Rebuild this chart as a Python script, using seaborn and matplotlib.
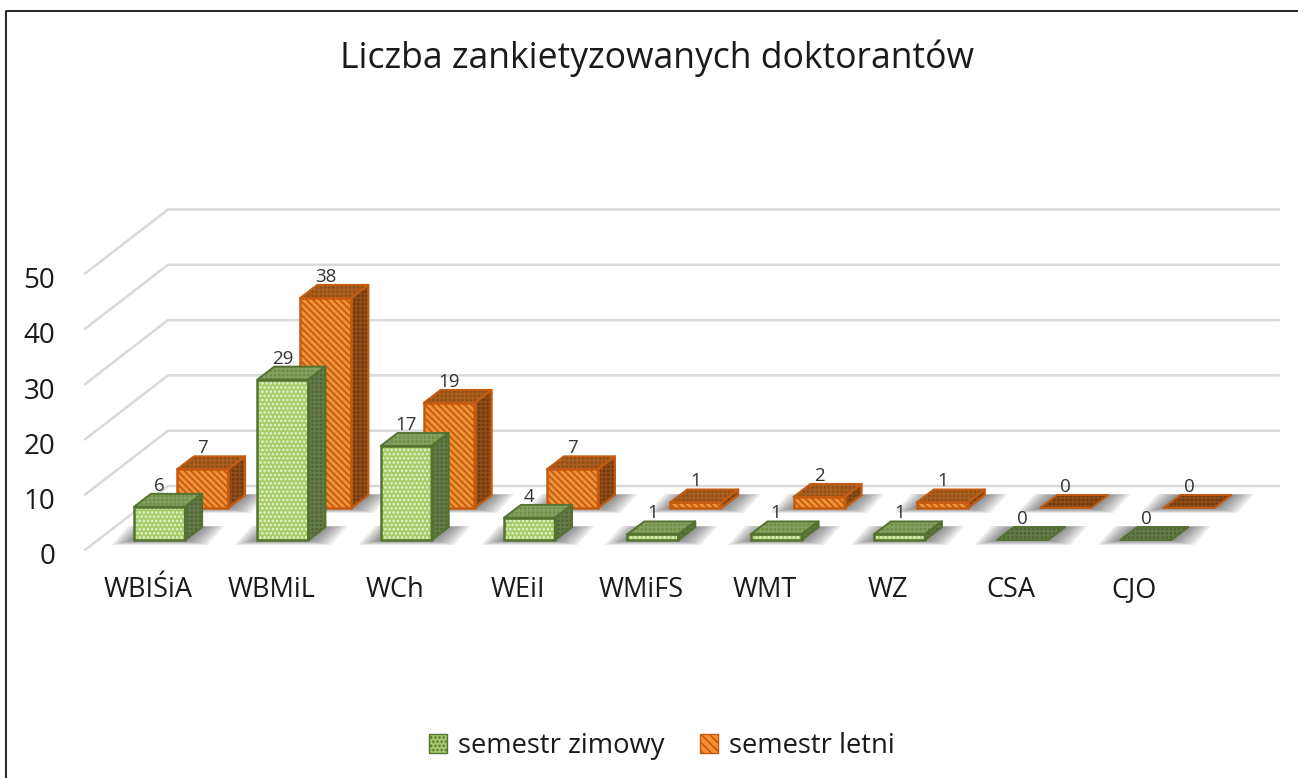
# Liczba zankietyzowanych doktorantow - pseudo 3D bars like the Excel one
import numpy as np
import pandas as pd
import seaborn as sns
import matplotlib.pyplot as plt
from matplotlib.lines import Line2D
from matplotlib.patches import Patch, Polygon, Rectangle
from matplotlib.transforms import ScaledTranslation

categories = ["WBIŚiA", "WBMiL", "WCh", "WEiI", "WMiFS", "WMT", "WZ", "CSA", "CJO"]
zimowy = [6, 29, 17, 4, 1, 1, 1, 0, 0]
letni = [7, 38, 19, 7, 1, 2, 1, 0, 0]
y_ticks = [0, 10, 20, 30, 40, 50]
series_names = ["semestr zimowy", "semestr letni"]
title = "Liczba zankietyzowanych doktorantów"

sns.set_theme(style="white")
plt.rcParams["font.family"] = ["Open Sans", "DejaVu Sans"]
plt.rcParams["hatch.linewidth"] = 1.2

W, H = 1298, 778
PX_X = 123.3   # pixels per category
PX_Y = 5.53    # pixels per unit

fig = plt.figure(figsize=(W / 100, H / 100), dpi=100, facecolor="white")
ax_left, ax_right, ax_top, ax_bottom = 70, W, 190, 572
ax = fig.add_axes([ax_left / W, 1 - ax_bottom / H, (ax_right - ax_left) / W, (ax_bottom - ax_top) / H])

# depth of the box and shift of the back row, in data units
bar_w = 51 / PX_X
dx = 17 / PX_X
dy = 13 / PX_Y
row_x = 43 / PX_X
row_y = 32 / PX_Y


def shadow(ax, x0, base, z):
    # soft floor shadow, stacked see-through shapes
    for k in range(7, 0, -1):
        grow_x = k * 3.2 / PX_X
        low = k * 0.7 / PX_Y
        high = k * 0.15 / PX_Y
        pts = [(x0 - grow_x, base - low), (x0 + bar_w + grow_x, base - low),
               (x0 + bar_w + dx + grow_x, base + dy + high), (x0 + dx - grow_x, base + dy + high)]
        ax.add_patch(Polygon(pts, fc="#404040", ec="none", alpha=0.11, zorder=z))


def box_faces(ax, bars, vals, base, top_c, top_h, side_c, side_h, edge, z):
    for b, v in zip(bars, vals):
        x0 = b.get_x()
        x1 = x0 + b.get_width()
        y1 = base + v
        top = [(x0, y1), (x1, y1), (x1 + dx, y1 + dy), (x0 + dx, y1 + dy)]
        side = [(x1, base), (x1 + dx, base + dy), (x1 + dx, y1 + dy), (x1, y1)]
        if v > 0:
            ax.add_patch(Polygon(side, fc=side_c, ec=side_h, hatch="++++", lw=0, zorder=z))
            ax.add_patch(Polygon(side, fill=False, ec=edge, lw=1.6, zorder=z + 0.2, joinstyle="round"))
            ax.add_patch(Rectangle((x0, base), b.get_width(), v, fill=False, ec=edge, lw=1.8, zorder=z + 0.3))
            ax.add_patch(Polygon(top, fc=top_c, ec=top_h, hatch="++++", lw=0, zorder=z))
        else:
            # empty bars only show a darker lid
            ax.add_patch(Polygon(top, fc=side_c, ec=side_h, hatch="++++", lw=0, zorder=z))
        ax.add_patch(Polygon(top, fill=False, ec=edge, lw=1.4, zorder=z + 0.2, joinstyle="round"))


# back row first so the front row covers it
df_letni = pd.DataFrame({"wydzial": categories, "liczba": letni})
df_zimowy = pd.DataFrame({"wydzial": categories, "liczba": zimowy})

sns.barplot(data=df_letni, x="wydzial", y="liczba", ax=ax, width=bar_w, color="#f49034", saturation=1,
            bottom=row_y, edgecolor="#b85a14", hatch="\\\\\\\\\\", linewidth=0, zorder=3)
back_bars = list(ax.patches)
for b in back_bars:
    b.set_x(b.get_x() + row_x)

sns.barplot(data=df_zimowy, x="wydzial", y="liczba", ax=ax, width=bar_w, color="#a6cc68", saturation=1,
            edgecolor="#e8f2d4", hatch="....", linewidth=0, zorder=5)
front_bars = list(ax.patches)[len(back_bars):]

for b in back_bars:
    shadow(ax, b.get_x(), row_y, 1.5)
for b in front_bars:
    shadow(ax, b.get_x(), 0, 1.6)

box_faces(ax, back_bars, letni, row_y, "#8f4c16", "#a9601f", "#6e3a10", "#8f4c16", "#c55a11", 3)
box_faces(ax, front_bars, zimowy, 0, "#6f8f45", "#86a060", "#4f6630", "#66794c", "#557230", 5)

# floor and wall grid lines
corner_x = (85 - 159.5) / PX_X
back_x = (168 - 159.5) / PX_X
end_x = (1279 - 159.5) / PX_X
front_off = -10 / PX_Y
back_off = 54 / PX_Y
for v in y_ticks:
    ax.plot([corner_x, back_x, end_x], [v + front_off, v + back_off, v + back_off],
            color="#d9d9d9", lw=1.8, zorder=1, clip_on=False, solid_joinstyle="miter")

# value labels sit just over the back edge of each box
for bars, vals, base, z in [(back_bars, letni, row_y, 7), (front_bars, zimowy, 0, 8)]:
    for b, v in zip(bars, vals):
        ax.text(b.get_x() + b.get_width() / 2, base + v + 21 / PX_Y, str(v), ha="center", va="center",
                fontsize=13.5, color="#333333", zorder=z)

ax.set_xlim((ax_left - 159.5) / PX_X, (ax_right - 159.5) / PX_X)
ax.set_ylim((540 - ax_bottom) / PX_Y, (540 - ax_top) / PX_Y)
ax.set_xlabel("")
ax.set_ylabel("")
sns.despine(ax=ax, left=True, bottom=True)

# y ticks start where the grid lines leave the front corner
ax.set_yticks([v + front_off for v in y_ticks])
ax.set_yticklabels([str(v) for v in y_ticks])
ax.tick_params(axis="both", length=0)
ax.tick_params(axis="x", labelsize=19.5, labelcolor="#1a1a1a", pad=3)
ax.tick_params(axis="y", labelsize=20, labelcolor="#1a1a1a", pad=10.5)
for lab in ax.get_xticklabels():
    lab.set_transform(lab.get_transform() + ScaledTranslation(-11.5 / 100, 0, fig.dpi_scale_trans))
for lab in ax.get_yticklabels():
    lab.set_transform(lab.get_transform() + ScaledTranslation(0, -4 / 100, fig.dpi_scale_trans))

ax.set_title(title, fontsize=25.6, color="#1a1a1a", pad=88, x=(657 - ax_left) / (ax_right - ax_left))

handles = [Patch(fc="#a6cc68", ec="#557230", hatch="....", lw=1),
           Patch(fc="#f49034", ec="#c55a11", hatch="\\\\\\\\", lw=1)]
fig.legend(handles, series_names, loc="center", bbox_to_anchor=(662 / W, 1 - 746 / H), ncol=2, frameon=False,
           fontsize=19.7, handlelength=0.66, handleheight=0.66, handletextpad=0.4, columnspacing=1.3,
           labelcolor="#1a1a1a")

# chart frame: only left and top fall inside the screenshot
fig.add_artist(Line2D([6 / W, 6 / W, 1], [0, 1 - 10.5 / H, 1 - 10.5 / H], color="black", lw=1.2))

fig.savefig("out.png", dpi=100)
